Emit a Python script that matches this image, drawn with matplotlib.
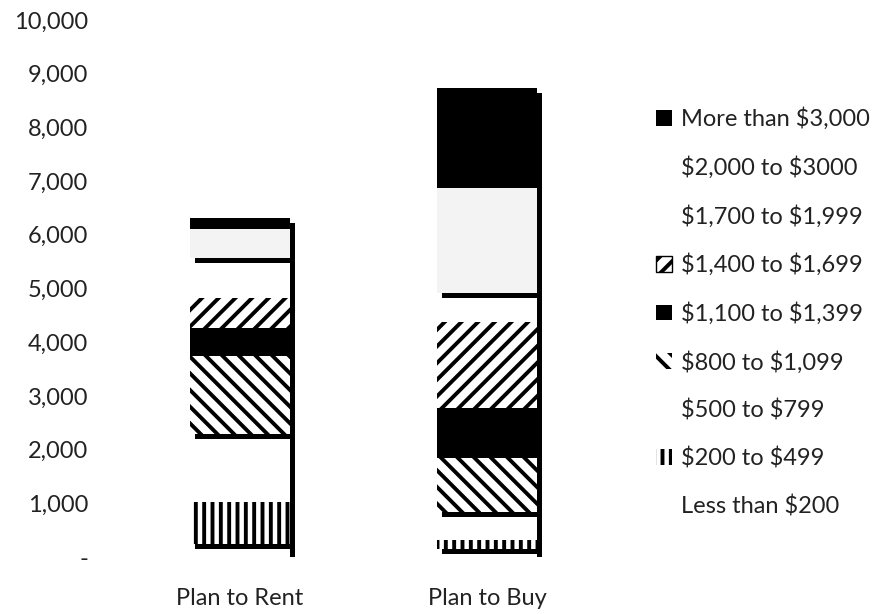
import matplotlib
matplotlib.use('Agg')
import matplotlib.pyplot as plt
import matplotlib.patheffects as pe
from matplotlib.patches import Patch

categories = ['Plan to Rent', 'Plan to Buy']
ranges = ['Less than $200', '$200 to $499', '$500 to $799', '$800 to $1,099',
          '$1,100 to $1,399', '$1,400 to $1,699', '$1,700 to $1,999',
          '$2,000 to $3000', 'More than $3,000']
rent = [240, 780, 1280, 1450, 520, 560, 740, 540, 205]
buy = [150, 170, 520, 1000, 930, 1600, 540, 1955, 1860]
yticks = [0, 1000, 2000, 3000, 4000, 5000, 6000, 7000, 8000, 9000, 10000]
ytick_labels = ['-', '1,000', '2,000', '3,000', '4,000', '5,000',
                '6,000', '7,000', '8,000', '9,000', '10,000']

# black & white print styling, one entry per range
faces = ['white', 'white', 'white', 'white', 'black', 'white', 'white', '#f3f3f3', 'black']
hatches = [None, '||', None, '\\\\', None, '//', None, None, None]
shadowed = [False, True, False, True, False, True, False, True, False]

plt.rcParams['font.family'] = ['Lato', 'DejaVu Sans']
plt.rcParams['hatch.linewidth'] = 2.8

fig = plt.figure(figsize=(8.77, 6.14), dpi=100)
ax = fig.add_axes([0.1323, 0.0928, 0.5644, 0.8746])

x = [0, 1]
width = 0.405
totals = [sum(rent), sum(buy)]

# drop shadow behind each whole bar (shows as the dark right edge)
shift = matplotlib.transforms.ScaledTranslation(5 / 100, -5 / 100, fig.dpi_scale_trans)
ax.bar(x, totals, width, color='black', zorder=1, transform=ax.transData + shift)

bottoms = [0, 0]
for i, lab in enumerate(ranges):
    vals = [rent[i], buy[i]]
    bars = ax.bar(x, vals, width, bottom=bottoms, color=faces[i], hatch=hatches[i],
                  edgecolor='black', linewidth=0, zorder=2 + i)
    if shadowed[i]:
        for b in bars:
            b.set_path_effects([pe.SimplePatchShadow(offset=(3.6, -3.6), shadow_rgbFace='black', alpha=1.0),
                                pe.Normal()])
    bottoms = [bottoms[0] + vals[0], bottoms[1] + vals[1]]

ax.set_xlim(-0.5, 1.5)
ax.set_ylim(0, 10000)
ax.set_yticks(yticks)
ax.set_yticklabels(ytick_labels)
ax.set_xticks(x)
ax.set_xticklabels(categories)
ax.tick_params(axis='y', length=0, pad=20, labelsize=17, labelcolor='#222222')
ax.tick_params(axis='x', length=0, pad=22, labelsize=17, labelcolor='#222222')
for s in ax.spines.values():
    s.set_visible(False)

# legend, top entry first
handles = []
for i in reversed(range(len(ranges))):
    face = 'white' if faces[i] == '#f3f3f3' else faces[i]
    lw = 1.0 if hatches[i] == '//' else 0
    handles.append(Patch(facecolor=face, hatch=hatches[i], edgecolor='black',
                         linewidth=lw, label=ranges[i].replace('$', r'\$')))
fig.legend(handles=handles, loc='upper left', bbox_to_anchor=(0.735, 0.844),
           frameon=False, fontsize=17, labelspacing=1.1, handlelength=0.65,
           handleheight=0.65, handletextpad=0.4, borderpad=0, labelcolor='#222222')

fig.savefig('out.png', dpi=100)
